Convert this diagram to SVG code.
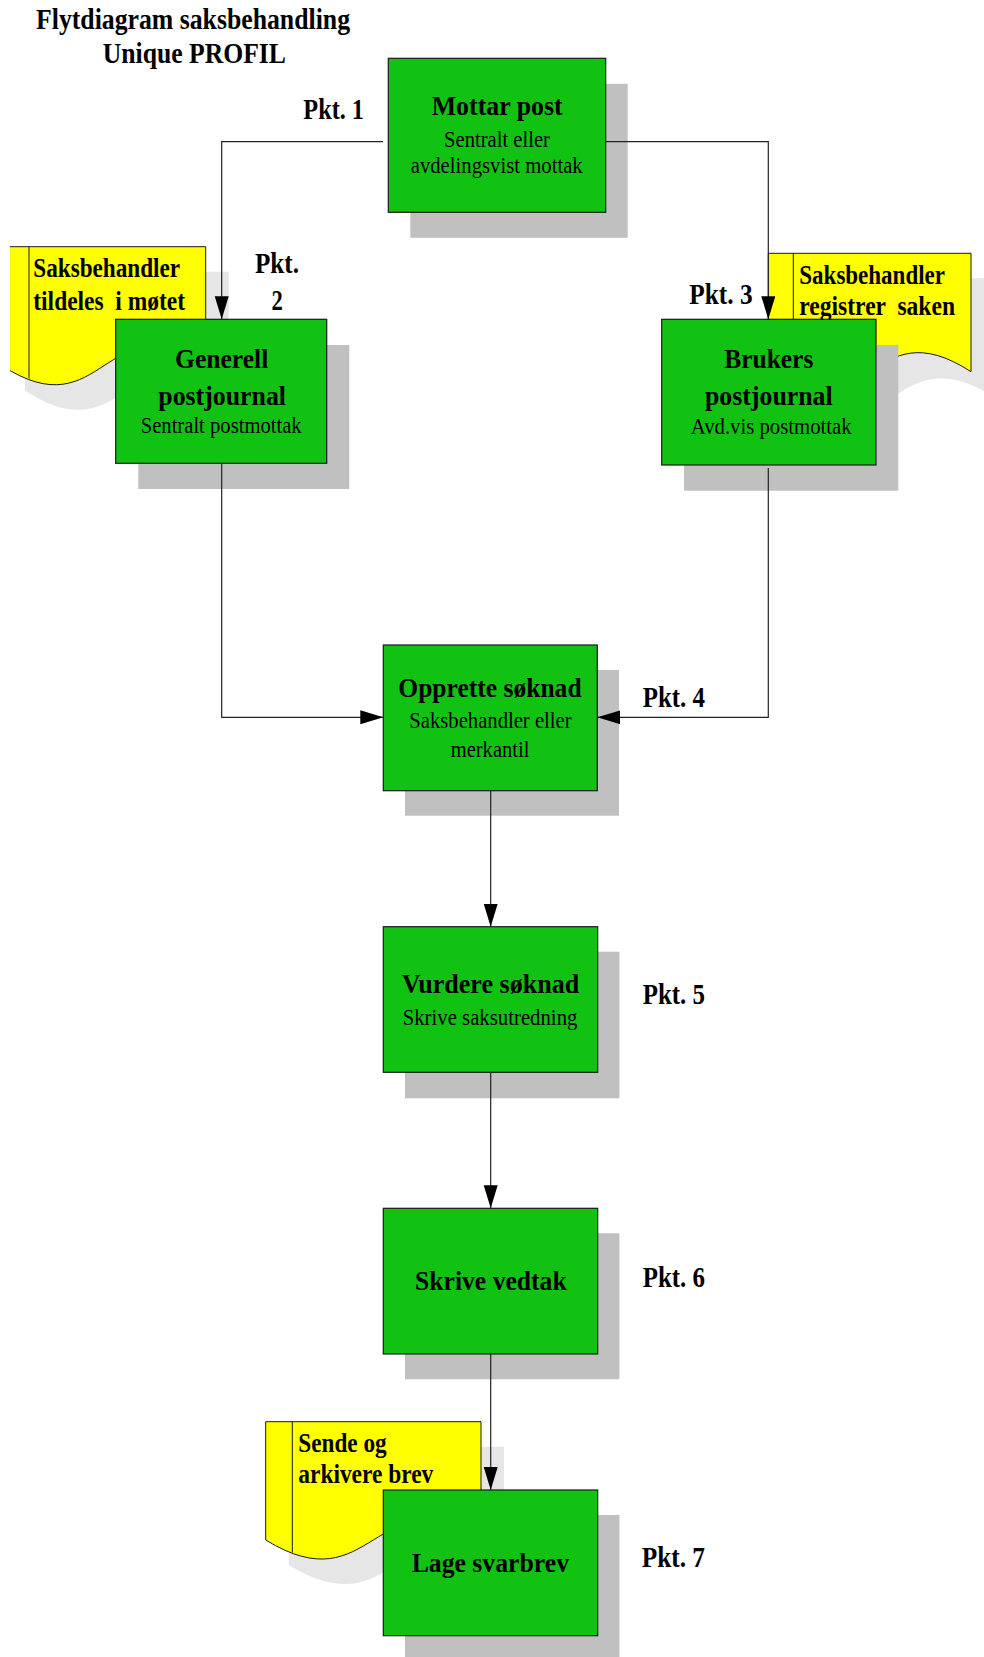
<svg xmlns="http://www.w3.org/2000/svg" width="984" height="1657" viewBox="0 0 984 1657">
<style>
.box{fill:#12c212;stroke:#1a1a1a;stroke-width:1.2}
.sh{fill:#c0c0c0}
.doc{fill:#ffff00;stroke:#1a1a1a;stroke-width:1}
.dsh{fill:#e6e6e6}
.b{font-family:"Liberation Serif","Times New Roman",serif;font-weight:bold;fill:#000}
.r{font-family:"Liberation Serif","Times New Roman",serif;fill:#000}
.t{font-size:27.5px}
.s{font-size:23px}
.p{font-size:29px}
.d{font-size:26.5px}
.pre{white-space:pre}
.con{fill:none;stroke:#222;stroke-width:1.2}
</style>
<defs>
<marker id="arr" markerUnits="userSpaceOnUse" markerWidth="24" markerHeight="16" refX="23" refY="7" orient="auto">
<path d="M0,0 L23,7 L0,14 Z" fill="#000"/>
</marker>
<clipPath id="clipL"><rect x="10" y="0" width="974" height="1657"/></clipPath>
</defs>
<rect width="984" height="1657" fill="#fff"/>

<g id="title">
<text class="b" x="36" y="28.5" font-size="28.5" textLength="314" lengthAdjust="spacingAndGlyphs">Flytdiagram saksbehandling</text>
<text class="b" x="102.7" y="63.3" font-size="28.5" textLength="183.3" lengthAdjust="spacingAndGlyphs">Unique PROFIL</text>
</g>

<g id="doc1" clip-path="url(#clipL)">
<path class="dsh" d="M25,271.7 H228.7 V390.7 C127,324.7 127,456.7 25,390.7 Z"/>
<path class="doc" d="M2,246.7 H205.7 V365.7 C104,299.7 104,431.7 2,365.7 Z"/>
<line x1="29" y1="246.7" x2="29" y2="378.5" stroke="#1a1a1a" stroke-width="1"/>
<text class="b d" x="33.3" y="276.7" textLength="146.7" lengthAdjust="spacingAndGlyphs">Saksbehandler</text>
<text class="b d pre" xml:space="preserve" x="33.3" y="310" textLength="151.7" lengthAdjust="spacingAndGlyphs">tildeles  i møtet</text>
</g>

<g id="doc2">
<path class="dsh" d="M791.3,278.3 H994 V397.3 C892.6,331.3 892.6,463.3 791.3,397.3 Z"/>
<path class="doc" d="M768.3,253.3 H971 V371.7 C869.6,305.7 869.6,437.7 768.3,371.7 Z"/>
<line x1="793.3" y1="253.3" x2="793.3" y2="384" stroke="#1a1a1a" stroke-width="1"/>
<text class="b d" x="799.3" y="284" textLength="145.7" lengthAdjust="spacingAndGlyphs">Saksbehandler</text>
<text class="b d pre" xml:space="preserve" x="799.3" y="315" textLength="155.7" lengthAdjust="spacingAndGlyphs">registrer  saken</text>
</g>

<g id="doc3">
<path class="dsh" d="M288.7,1446.7 H504 V1565 C396.3,1499 396.3,1631 288.7,1565 Z"/>
<path class="doc" d="M265.7,1421.7 H481 V1540 C373.3,1474 373.3,1606 265.7,1540 Z"/>
<line x1="292.3" y1="1421.7" x2="292.3" y2="1552.5" stroke="#1a1a1a" stroke-width="1"/>
<text class="b d" x="298.3" y="1451.7" textLength="88.3" lengthAdjust="spacingAndGlyphs">Sende og</text>
<text class="b d" x="298.3" y="1483.3" textLength="135" lengthAdjust="spacingAndGlyphs">arkivere brev</text>
</g>

<g id="mottar">
<rect class="sh" x="410.3" y="83.8" width="217.4" height="154"/>
<rect class="box" x="388.3" y="58.3" width="217.4" height="154"/>
<text class="b t" x="431.7" y="115" textLength="131" lengthAdjust="spacingAndGlyphs">Mottar post</text>
<text class="r s" x="444" y="146.7" textLength="106" lengthAdjust="spacingAndGlyphs">Sentralt eller</text>
<text class="r s" x="410.7" y="173.3" textLength="172" lengthAdjust="spacingAndGlyphs">avdelingsvist mottak</text>
</g>

<g id="generell">
<rect class="sh" x="138.3" y="345" width="211" height="144"/>
<rect class="box" x="115.7" y="319.3" width="211" height="144"/>
<text class="b t" x="175" y="368.3" textLength="93.3" lengthAdjust="spacingAndGlyphs">Generell</text>
<text class="b t" x="158.3" y="405" textLength="127.7" lengthAdjust="spacingAndGlyphs">postjournal</text>
<text class="r s" x="140.7" y="433.3" textLength="161" lengthAdjust="spacingAndGlyphs">Sentralt postmottak</text>
</g>

<g id="brukers">
<rect class="sh" x="684" y="345" width="214.3" height="145.7"/>
<rect class="box" x="661.7" y="319.3" width="214.3" height="145.7"/>
<text class="b t" x="724.3" y="368.3" textLength="89" lengthAdjust="spacingAndGlyphs">Brukers</text>
<text class="b t" x="705" y="405" textLength="127.7" lengthAdjust="spacingAndGlyphs">postjournal</text>
<text class="r s" x="690.7" y="434" textLength="161" lengthAdjust="spacingAndGlyphs">Avd.vis postmottak</text>
</g>

<g id="opprette">
<rect class="sh" x="405" y="670" width="214" height="145.7"/>
<rect class="box" x="383.3" y="645" width="214" height="145.7"/>
<text class="b t" x="398.3" y="696.7" textLength="183.3" lengthAdjust="spacingAndGlyphs">Opprette søknad</text>
<text class="r s" x="409.3" y="728.3" textLength="162.3" lengthAdjust="spacingAndGlyphs">Saksbehandler eller</text>
<text class="r s" x="450.7" y="756.7" textLength="78.7" lengthAdjust="spacingAndGlyphs">merkantil</text>
</g>

<g id="vurdere">
<rect class="sh" x="405" y="951.7" width="214.4" height="146.6"/>
<rect class="box" x="383.3" y="926.7" width="214.4" height="145.6"/>
<text class="b t" x="401.7" y="993.3" textLength="177.7" lengthAdjust="spacingAndGlyphs">Vurdere søknad</text>
<text class="r s" x="402.7" y="1025" textLength="174.7" lengthAdjust="spacingAndGlyphs">Skrive saksutredning</text>
</g>

<g id="skrive">
<rect class="sh" x="405" y="1233.3" width="214.4" height="146"/>
<rect class="box" x="383.3" y="1208.3" width="214.4" height="145.7"/>
<text class="b t" x="415" y="1290" textLength="151.7" lengthAdjust="spacingAndGlyphs">Skrive vedtak</text>
</g>

<g id="lage">
<rect class="sh" x="405" y="1515" width="214.4" height="145.7"/>
<rect class="box" x="383.3" y="1490" width="214.4" height="145.7"/>
<text class="b t" x="411.7" y="1571.7" textLength="157.3" lengthAdjust="spacingAndGlyphs">Lage svarbrev</text>
</g>

<g id="labels">
<text class="b p" x="303.3" y="119" textLength="60.7" lengthAdjust="spacingAndGlyphs">Pkt. 1</text>
<text class="b p" x="255" y="273" textLength="44" lengthAdjust="spacingAndGlyphs">Pkt.</text>
<text class="b p" x="271.5" y="310" textLength="11.3" lengthAdjust="spacingAndGlyphs">2</text>
<text class="b p" x="689.3" y="304" textLength="63.3" lengthAdjust="spacingAndGlyphs">Pkt. 3</text>
<text class="b p" x="642.7" y="706.7" textLength="62.3" lengthAdjust="spacingAndGlyphs">Pkt. 4</text>
<text class="b p" x="642.7" y="1004.3" textLength="62.3" lengthAdjust="spacingAndGlyphs">Pkt. 5</text>
<text class="b p" x="642.7" y="1286.7" textLength="62.3" lengthAdjust="spacingAndGlyphs">Pkt. 6</text>
<text class="b p" x="641.7" y="1566.7" textLength="63.3" lengthAdjust="spacingAndGlyphs">Pkt. 7</text>
</g>

<g id="connectors">
<path class="con" d="M383,141.7 H221.7 V319.3" marker-end="url(#arr)"/>
<path class="con" d="M606,141.7 H768.3 V319.3" marker-end="url(#arr)"/>
<path class="con" d="M221.7,463.3 V717.3 H383.3" marker-end="url(#arr)"/>
<path class="con" d="M768.3,468 V717.3 H597.3" marker-end="url(#arr)"/>
<path class="con" d="M490.7,790.7 V926.7" marker-end="url(#arr)"/>
<path class="con" d="M490.7,1072.3 V1208.3" marker-end="url(#arr)"/>
<path class="con" d="M490.7,1354 V1490" marker-end="url(#arr)"/>
</g>
</svg>
